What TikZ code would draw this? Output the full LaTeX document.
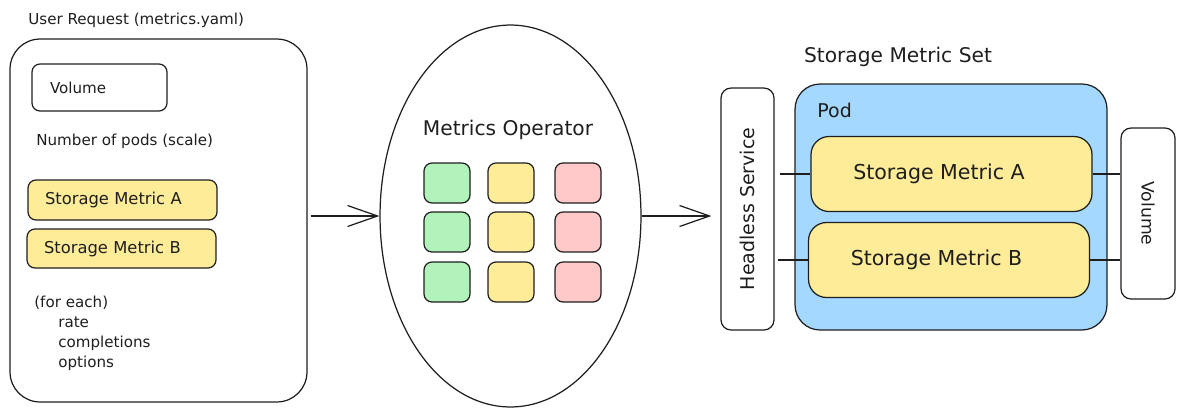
\documentclass[tikz,border=0pt]{standalone}
\usepackage{fontspec}
\setmainfont{DejaVu Sans}
\usetikzlibrary{arrows.meta,shapes.geometric}
\definecolor{ink}{HTML}{1E1E1E}
\definecolor{metricyellow}{HTML}{FFEC99}
\definecolor{podblue}{HTML}{A5D8FF}
\definecolor{okgreen}{HTML}{B2F2BB}
\definecolor{errred}{HTML}{FFC9C9}
\begin{document}
\begin{tikzpicture}[
    x=0.02cm, y=-0.02cm,
    font=\fontsize{8.6}{11.3}\selectfont,
    every node/.style={text=ink},
    panel/.style={draw=ink, line width=0.7pt, rounded corners=0.6cm, minimum width=5.94cm, minimum height=7.26cm},
    field/.style={draw=ink, line width=0.7pt, rounded corners=0.16cm, align=left, inner xsep=0.34cm, inner ysep=0pt},
    metric/.style={field, fill=metricyellow, font=\fontsize{9.3}{11}\selectfont},
    cell/.style={draw=ink, line width=0.7pt, rounded corners=0.16cm, minimum width=0.92cm, minimum height=0.8cm, inner sep=0pt},
    side/.style={draw=ink, line width=0.7pt, rounded corners=0.2cm, inner sep=0pt},
    bigmetric/.style={draw=ink, line width=0.7pt, rounded corners=0.36cm, fill=metricyellow, minimum width=5.62cm, minimum height=1.5cm, font=\fontsize{11.7}{13}\selectfont},
    caption/.style={font=\fontsize{11.5}{13}\selectfont},
    flow/.style={-{Straight Barb[length=0.6cm, width=0.42cm]}, draw=ink, line width=0.7pt},
    link/.style={draw=ink, line width=0.7pt}
]
\useasboundingbox (0,0) rectangle (1185,416);

% User request
\node[anchor=west, inner sep=0pt] (reqtitle) at (28,20) {User Request (metrics.yaml)};
\node[panel] (req) at (158.5,220.5) {};
\node[field, text width=1.98cm, minimum height=0.94cm, inner xsep=0.36cm] (vol) at (99.5,87.5) {Volume};
\node[anchor=west, inner sep=0pt] (pods) at (36,141) {Number of pods (scale)};
\node[metric, text width=3.1cm, minimum height=0.8cm] (reqA) at (122.5,200) {Storage Metric A};
\node[metric, text width=3.1cm, minimum height=0.78cm] (reqB) at (121.5,248.5) {Storage Metric B};
\node[anchor=north west, inner sep=0pt, align=left] (each) at (34,296)
  {(for each)\\\hspace*{0.48cm}rate\\\hspace*{0.48cm}completions\\\hspace*{0.48cm}options};

% Operator
\node[ellipse, draw=ink, line width=0.7pt, minimum width=5.22cm, minimum height=7.64cm, inner sep=0pt] (op) at (510.5,216) {};
\node[caption] (optitle) at (508,130) {Metrics Operator};
\foreach \col/\cx in {okgreen/447, metricyellow/511, errred/578}
  \foreach \cy [count=\r] in {183,232,282}
    \node[cell, fill=\col] (cell-\cx-\r) at (\cx,\cy) {};

\draw[flow] ([xshift=0.06cm]req.east |- op.west) -- (op.west);

% Storage metric set
\node[caption] (settitle) at (898,57) {Storage Metric Set};
\node[side, rotate=90, minimum width=4.84cm, minimum height=1.06cm, font=\fontsize{10.8}{13}\selectfont] (hs) at (747.5,209) {Headless Service};
\node[draw=ink, line width=0.7pt, rounded corners=0.5cm, fill=podblue, minimum width=6.24cm, minimum height=4.92cm] (pod) at (951,207) {};
\node[anchor=west, inner sep=0pt, font=\fontsize{10.8}{13}\selectfont] (podtitle) at (817,110) {Pod};
\node[bigmetric] (smA) at (951.5,174) {\hspace*{-0.5cm}Storage Metric A};
\node[bigmetric] (smB) at (949,260) {\hspace*{-0.5cm}Storage Metric B};
\node[side, rotate=-90, minimum width=3.42cm, minimum height=1.08cm, font=\fontsize{9.8}{12}\selectfont] (volR) at (1148,213.5) {Volume};

% hs.north and hs.south face left and right once turned
\draw[flow] (op.east) -- ([xshift=-0.18cm]hs.north |- op.east);
\draw[link] ([xshift=0.1cm]hs.south |- smA.west) -- (smA.west);
\draw[link] ([xshift=0.06cm]hs.south |- smB.west) -- (smB.west);
\draw[link] (smA.east) -- (volR.south |- smA.east);
\draw[link] (smB.east) -- (volR.south |- smB.east);
\end{tikzpicture}
\end{document}
